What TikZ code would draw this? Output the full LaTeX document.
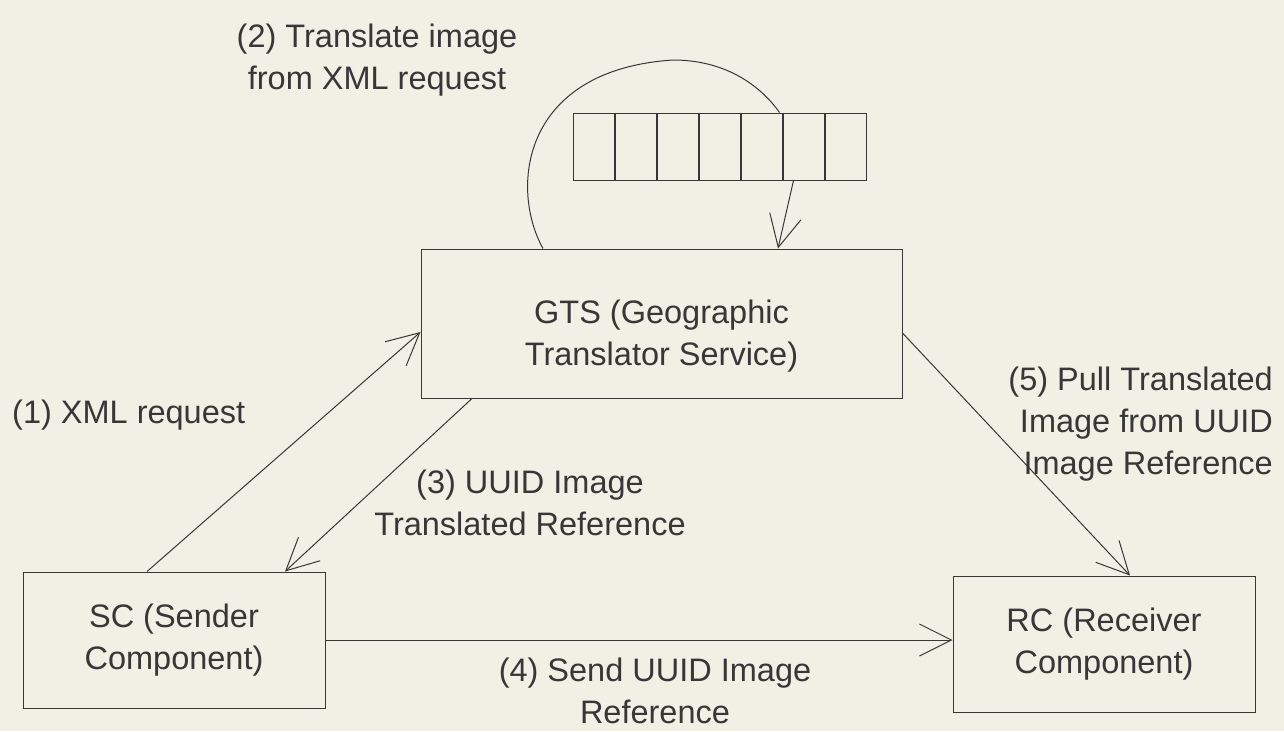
\documentclass[tikz,border=0pt]{standalone}
\usepackage{fontspec}
\setmainfont{Liberation Sans}
\usetikzlibrary{arrows.meta,positioning}
\definecolor{paper}{RGB}{240,240,229}
\definecolor{ink}{RGB}{55,55,55}

\begin{document}
\begin{tikzpicture}[
    x=1pt, y=-1pt,
    font=\fontsize{32.5}{42}\selectfont,
    text=ink,
    comp/.style={rectangle, draw=ink, line width=1pt, align=center, inner sep=0pt},
    cell/.style={rectangle, draw=ink, line width=1pt, minimum width=41pt,
                 minimum height=67pt, inner sep=0pt},
    lbl/.style={align=center, inner sep=0pt},
    arr/.style={-{Straight Barb[length=32pt,width=32pt]}, draw=ink, line width=1pt},
    wire/.style={draw=ink, line width=1pt},
  ]
    \fill[paper] (0,0) rectangle (1284,731);
    \useasboundingbox (0,0) rectangle (1284,731);

    %% ── Components ───────────────────────────────────────────
    \node[comp, minimum width=481pt, minimum height=149pt, text height=90pt] (gts)
        at (661.5,323.5) {GTS (Geographic\\Translator Service)};
    \node[comp, minimum width=302pt, minimum height=136pt] (sc) at (174,640)
        {SC (Sender\\Component)};
    \node[comp, minimum width=302pt, minimum height=136pt] (rc) at (1104,644)
        {RC (Receiver\\Component)};

    %% ── Queue ────────────────────────────────────────────────
    \node[cell] (q1) at (593.5,146.5) {};
    \foreach \i [count=\j from 2] in {1,...,6}
        \node[cell, right=0pt of q\i] (q\j) {};
    \coordinate (looptop) at (673,60);

    %% ── Labels ───────────────────────────────────────────────
    \node[lbl, anchor=base] (trans) at (377,89) {(2) Translate image\\from XML request};
    \node[lbl, anchor=base west] (xmlreq) at (12,423) {(1) XML request};
    \node[lbl, anchor=base] (uuidref) at (530,535) {(3) UUID Image\\Translated Reference};
    \node[lbl, anchor=base] (send) at (655,723) {(4) Send UUID Image\\Reference};
    \node[lbl, align=right, anchor=base east] (pull) at (1273,474)
        {(5) Pull Translated\\Image from UUID\\Image Reference};

    %% ── Arrows ───────────────────────────────────────────────
    \draw[arr] ([xshift=-27pt]sc.north) -- ([yshift=-8.5pt]gts.west);
    \draw[wire] ([xshift=-118.5pt]gts.north) .. controls +(-33,-59) and (520,70) .. (looptop)
        .. controls (725,60) and (760,85) .. ([xshift=-3pt]q6.north west);
    \draw[arr] ([xshift=11pt]q6.south west) -- ([xshift=116.5pt]gts.north);
    \draw[arr] ([xshift=-189.5pt]gts.south) -- ([xshift=111pt]sc.north);
    \draw[arr] (sc.east) -- (sc.east -| rc.west);
    \draw[arr] ([yshift=-9.5pt]gts.east) -- ([xshift=26pt]rc.north);

\end{tikzpicture}
\end{document}
